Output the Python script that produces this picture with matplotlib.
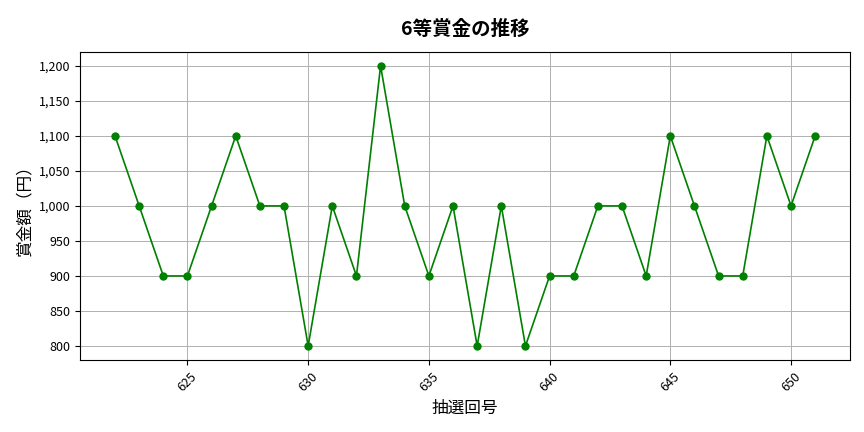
import matplotlib
matplotlib.use('Agg')
from matplotlib import pyplot as plt
from matplotlib.ticker import FuncFormatter

plt.rcParams['font.family'] = ['Noto Sans CJK JP', 'DejaVu Sans']

draws = list(range(622, 652))
prizes = [1100, 1000, 900, 900, 1000, 1100, 1000, 1000, 800, 1000,
          900, 1200, 1000, 900, 1000, 800, 1000, 800, 900, 900,
          1000, 1000, 900, 1100, 1000, 900, 900, 1100, 1000, 1100]

fig, ax = plt.subplots(figsize=(8.64, 4.32), dpi=100)
ax.plot(draws, prizes, color='green', marker='o', markersize=5, linewidth=1.2)
ax.set_title('6等賞金の推移', fontsize=14, fontweight='bold', pad=12)
ax.set_xlabel('抽選回号', fontsize=12)
ax.set_ylabel('賞金額（円）', fontsize=12)
ax.yaxis.set_major_formatter(FuncFormatter(lambda v, p: f'{int(v):,}'))
ax.tick_params(axis='x', labelrotation=45, labelsize=9)
ax.tick_params(axis='y', labelsize=9)
ax.grid(True, linewidth=0.7)
fig.subplots_adjust(left=0.0926, right=0.984, top=0.88, bottom=0.1667)
fig.savefig('out.png')
